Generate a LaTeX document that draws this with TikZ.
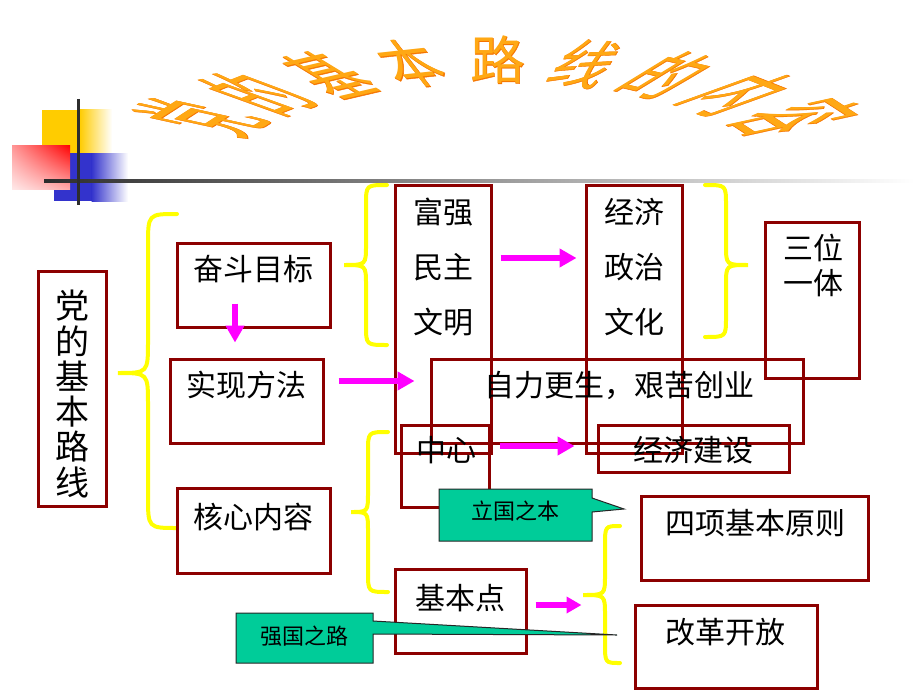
\documentclass[tikz,border=0pt]{standalone}
\usepackage{fontspec}
\usetikzlibrary{arrows.meta,shadings}
\newfontfamily\cjk{Noto Sans CJK SC}
\newfontfamily\cjkfat[FakeBold=0.8]{Noto Sans CJK SC}
\definecolor{boxred}{RGB}{140,0,0}
\definecolor{ylw}{RGB}{255,255,0}
\definecolor{mag}{RGB}{255,0,255}
\definecolor{tealc}{RGB}{0,204,153}
\definecolor{orfill}{RGB}{255,168,20}
\definecolor{oredge}{RGB}{245,115,0}
\definecolor{sqyellow}{RGB}{255,204,0}
\definecolor{sqblue}{RGB}{51,51,204}
\definecolor{darkln}{RGB}{45,45,45}
\newcommand\ybrace[7]{\draw[brace] (#1,#2) .. controls (#3,#2) .. (#3,#2+#7) -- (#3,#5-#7) .. controls (#3,#5) .. (#4,#5) .. controls (#3,#5) .. (#3,#5+#7) -- (#3,#6-#7) .. controls (#3,#6) .. (#1,#6);}
\begin{document}
\begin{tikzpicture}[x=1pt,y=-1pt,
  box/.style={draw=boxred, line width=3pt, inner sep=0pt},
  lbl/.style={font=\cjk\fontsize{30}{30}\selectfont, inner sep=0pt, text=black},
  cl/.style={font=\cjk\fontsize{22}{22}\selectfont, inner sep=0pt, text=black},
  arr/.style={-{Triangle[length=17pt,width=18pt]}, line width=6pt, draw=mag},
  brace/.style={draw=ylw, line width=4pt, line cap=round},
  callout/.style={fill=tealc, draw=black!85, line width=1pt}]
\useasboundingbox (0,0) rectangle (920,690);
\fill[white] (0,0) rectangle (920,690);

% decorative squares and lines
\fill[sqyellow] (42,110) rectangle (80,160);
\shade[left color=sqyellow, right color=white] (79.5,110) rectangle (112,160);
\fill[sqblue] (54,153) rectangle (92,201);
\shade[left color=sqblue, right color=white] (91.5,153) rectangle (128,201);
\shade[upper right=red, upper left={rgb,255:red,255;green,150;blue,150},
       lower right={rgb,255:red,255;green,170;blue,170},
       lower left={rgb,255:red,255;green,232;blue,232}] (12,145) rectangle (70,189);
\shade[left color=darkln, middle color=black!35, right color=white] (44,179.5) rectangle (915,182.5);
\draw[darkln, line width=3pt] (78,99) -- (78,205);

% arched title
\foreach \ch [count=\i] in {党,的,基,本,路,线,的,内,容} {
  \pgfmathsetmacro\th{(\i-5)*14}
  \pgfmathsetmacro\px{498+360*sin(\th)}
  \pgfmathsetmacro\py{190-130*cos(\th)}
  \pgfmathsetmacro\ma{0.55*cos(\th)}
  \pgfmathsetmacro\mb{-0.24*sin(\th)}
  \pgfmathsetmacro\mc{1.6*sin(\th)}
  \pgfmathsetmacro\md{0.52*cos(\th)}
  \begin{scope}[shift={(\px,\py)}]
    \begin{scope}[cm={\ma,\mb,\mc,\md,(0,0)}]
      \node[transform shape, inner sep=0pt, text=oredge, font=\cjkfat\fontsize{100}{100}\selectfont] (title-o\i) at (0,0) {\ch};
      \node[transform shape, inner sep=0pt, text=orfill, font=\cjk\fontsize{100}{100}\selectfont] (title-f\i) at (0,0) {\ch};
    \end{scope}
  \end{scope}
}

% braces
\ybrace{177}{214}{148}{118}{373}{528}{32}
\ybrace{387}{185}{366}{344}{265}{345}{20}
\ybrace{705}{185}{726}{748}{265}{337}{20}
\ybrace{388}{432}{368}{351}{512}{592}{20}
\ybrace{620}{526}{605}{583}{595}{663}{20}

% boxes
\node[box, minimum width=68pt,  minimum height=235pt] (dang)      at (72,388.5) {};
\node[box, minimum width=153pt, minimum height=84pt]  (fendou)    at (253.5,285) {};
\node[box, minimum width=153pt, minimum height=84pt]  (shixian)   at (246.5,401) {};
\node[box, minimum width=153pt, minimum height=85pt]  (hexin)     at (253.5,530.5) {};
\node[box, minimum width=96pt,  minimum height=268pt] (fuqiang)   at (443,319) {};
\node[box, minimum width=96pt,  minimum height=268pt] (jingji)    at (634,319) {};
\node[box, minimum width=94pt,  minimum height=156pt] (sanwei)    at (812,300) {};
\node[box, minimum width=372pt, minimum height=84pt]  (zili)      at (617,401) {};
\node[box, minimum width=88pt,  minimum height=82pt]  (zhongxin)  at (445,466) {};
\node[box, minimum width=191pt, minimum height=47pt]  (jjjs)      at (693.5,448.5) {};
\node[box, minimum width=227pt, minimum height=84pt]  (sixiang)   at (754.5,538) {};
\node[box, minimum width=131pt, minimum height=84pt]  (jibendian) at (460.5,611) {};
\node[box, minimum width=182pt, minimum height=83pt]  (gaige)     at (726,646.5) {};

% labels
\node[lbl, align=center, font=\cjk\fontsize{34}{35.3}\selectfont] (t-dang) at (72,394) {党\\的\\基\\本\\路\\线};
\node[lbl] (t-fendou) at (253,269) {奋斗目标};
\node[lbl] (t-shixian) at (246,385) {实现方法};
\node[lbl] (t-hexin) at (253,517) {核心内容};
\node[lbl, align=center, font=\cjk\fontsize{30}{55}\selectfont] (t-fuqiang) at (443,267) {富强\\民主\\文明};
\node[lbl, align=center, font=\cjk\fontsize{30}{55}\selectfont] (t-jingji) at (634,267) {经济\\政治\\文化};
\node[lbl, align=center, font=\cjk\fontsize{30}{35}\selectfont] (t-sanwei) at (813,265.5) {三位\\一体};
\node[lbl] (t-zili) at (619,385) {自力更生，艰苦创业};
\node[lbl] (t-zhongxin) at (446,450) {中心};
\node[lbl] (t-jjjs) at (693,450) {经济建设};
\node[lbl] (t-sixiang) at (755,523) {四项基本原则};
\node[lbl] (t-jibendian) at (460,598) {基本点};
\node[lbl] (t-gaige) at (725,632) {改革开放};

% arrows
\draw[arr, shorten >=15pt] ([xshift=-18.5pt, yshift=25pt]fendou.south) -- ([xshift=-11.5pt]shixian.north);
\draw[arr, shorten <=14pt, shorten >=15pt] ([yshift=20pt]shixian.east) coordinate (a2s) -- (a2s -| zili.west);
\draw[arr, shorten <=8pt, shorten >=8pt] ([yshift=61pt]fuqiang.east) coordinate (a3s) -- (a3s -| jingji.west);
\draw[arr, shorten <=9pt, shorten >=22pt] ([yshift=20pt]zhongxin.east) coordinate (a4s) -- (a4s -| jjjs.west);
\draw[arr, -{Triangle[length=15pt,width=16pt]}, shorten <=8pt, shorten >=52pt] ([yshift=6pt]jibendian.east) coordinate (a5s) -- (a5s -| gaige.west);

% callouts
\draw[callout] (439,489) -- (592,489) -- (592,498) -- (624,509) -- (592,512) -- (592,541) -- (439,541) -- cycle;
\node[cl] (t-liguo) at (515,511) {立国之本};
\draw[callout] (236,613) -- (373,613) -- (373,621) -- (617,635) -- (373,634) -- (373,663) -- (236,663) -- cycle;
\node[cl] (t-qiangguo) at (304,636) {强国之路};
\end{tikzpicture}
\end{document}
